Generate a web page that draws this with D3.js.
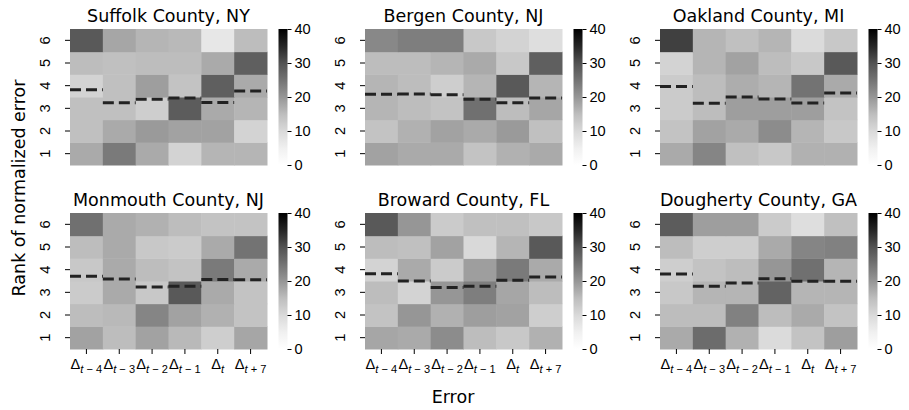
<!DOCTYPE html>
<html>
<head>
<meta charset="utf-8">
<script src="https://cdn.jsdelivr.net/npm/d3@7"></script>
<style>
  body { margin: 0; background: #fff; }
  svg { font-family: "DejaVu Sans", sans-serif; }
</style>
</head>
<body>
<svg id="chart" width="909" height="410"></svg>
<script>
// Share (%) of each rank of normalized error, per error column.
// Rows are rank 1 .. rank 6, columns follow errorKeys.
const counties = ["Suffolk County, NY", "Bergen County, NJ", "Oakland County, MI",
                  "Monmouth County, NJ", "Broward County, FL", "Dougherty County, GA"];
const errorKeys = ["t\u22124", "t\u22123", "t\u22122", "t\u22121", "t", "t+7"];
const ranks = [1, 2, 3, 4, 5, 6];
const colorbarTicks = [0, 10, 20, 30, 40];

const suffolk = [
  [17.5, 24, 17.5, 11, 16, 16],
  [14.5, 17.5, 19.5, 18.5, 18.5, 11],
  [14.5, 14.5, 12, 28.5, 17.5, 16],
  [11, 14.5, 19, 14, 28, 17.5],
  [15, 14.5, 15, 15, 17.5, 28],
  [29, 18, 16, 15.5, 7, 15]
];
const bergen = [
  [18.5, 17.5, 17.5, 14, 16.5, 17.5],
  [14, 16.5, 18.5, 17.5, 19.5, 14.5],
  [16, 15, 14, 25.5, 15, 18],
  [16, 15, 12, 16, 29, 16],
  [15, 15, 16, 17.5, 13, 28],
  [22, 23.5, 23.5, 13, 11, 9]
];
const oakland = [
  [17.5, 22.5, 14.5, 13, 16.5, 16.5],
  [14, 18.5, 17.5, 21.5, 16, 13],
  [12.5, 15, 19, 19, 19, 14],
  [12.5, 15, 17, 16, 25, 17.5],
  [11, 16, 18.5, 15, 13, 29],
  [32, 16, 14.5, 16, 9.5, 13]
];
const monmouth = [
  [18.5, 15, 18.5, 15.5, 12, 18],
  [15, 15.5, 22.5, 18.5, 16.5, 14],
  [12.5, 17.5, 13, 29, 17.5, 14],
  [13, 17.5, 15, 14, 24, 17.5],
  [15, 17.5, 13, 12.5, 17.5, 25],
  [25.5, 17.5, 16.5, 15, 14, 14]
];
const broward = [
  [18, 17.5, 21.5, 15, 13, 16.5],
  [14, 20, 16.5, 19, 18.5, 12],
  [15, 11, 20, 23.5, 18, 15],
  [11, 17.5, 12.5, 19, 24, 17.5],
  [15, 14.5, 18.5, 10, 16, 29],
  [29, 20, 12.5, 14.5, 14.5, 13]
];
const dougherty = [
  [17.5, 26, 16.5, 9.5, 14, 19],
  [15, 15, 23, 15, 17.5, 14],
  [13, 16, 16, 27.5, 16, 16],
  [12, 14, 15, 20, 25.5, 16],
  [15, 12, 12, 17.5, 22.5, 23],
  [28.5, 19, 19, 12.5, 9, 14.5]
];

// Mean rank per error column (dashed markers)
const suffolkMean   = [3.82, 3.25, 3.40, 3.46, 3.26, 3.76];
const bergenMean    = [3.62, 3.63, 3.60, 3.40, 3.25, 3.46];
const oaklandMean   = [3.96, 3.22, 3.50, 3.41, 3.24, 3.68];
const monmouthMean  = [3.71, 3.59, 3.24, 3.27, 3.57, 3.56];
const browardMean   = [3.82, 3.50, 3.21, 3.27, 3.53, 3.68];
const doughertyMean = [3.81, 3.27, 3.41, 3.60, 3.49, 3.49];

const grids = [suffolk, bergen, oakland, monmouth, broward, dougherty];
const means = [suffolkMean, bergenMean, oaklandMean, monmouthMean, browardMean, doughertyMean];

// ---- layout ----
const svg = d3.select("#chart");
const W = 197, H = 136;
const colX = [70, 365, 660];
const rowY = [29, 213];
const cbGap = 11.5, cbW = 9;
const tickFont = 14.6;
const labelFont = 17.5;

// Greys colormap (ColorBrewer, piecewise linear)
const greys = ["#ffffff", "#f0f0f0", "#d9d9d9", "#bdbdbd", "#969696",
               "#737373", "#525252", "#252525", "#000000"];
const color = d3.scaleLinear()
  .domain(d3.range(9).map(i => i * 5))
  .range(greys)
  .clamp(true);

// colorbar gradient
const defs = svg.append("defs");
const grad = defs.append("linearGradient")
  .attr("id", "greysGrad").attr("x1", 0).attr("y1", 1).attr("x2", 0).attr("y2", 0);
d3.range(0, 41, 1).forEach(v => {
  grad.append("stop").attr("offset", v / 40).attr("stop-color", color(v));
});

// Δ with a math-style subscript
function subLabel(sel, key) {
  sel.text(null);
  sel.append("tspan").text("\u0394");
  const sub = sel.append("tspan").attr("dy", 4).attr("font-size", tickFont * 0.76);
  sub.append("tspan").attr("font-style", "italic").text("t");
  const rest = key.slice(1);
  if (rest.length) {
    sub.append("tspan").text(rest.replace("\u2212", " \u2212 ").replace("+", " + "));
  }
}

grids.forEach((grid, i) => {
  const col = i % 3, row = Math.floor(i / 3);
  const x0 = colX[col], y0 = rowY[row];
  const g = svg.append("g");

  const x = d3.scaleBand().domain(d3.range(6)).range([x0, x0 + W]);
  const y = d3.scaleBand().domain(ranks.slice().reverse()).range([y0, y0 + H]);
  const yLin = d3.scaleLinear().domain([0.5, 6.5]).range([y0 + H, y0]);

  // cells
  const cells = [];
  grid.forEach((vals, r) => vals.forEach((v, c) => cells.push({ rank: ranks[r], c, v })));
  g.selectAll("rect.cell").data(cells).join("rect")
    .attr("class", "cell")
    .attr("x", d => x(d.c))
    .attr("y", d => y(d.rank))
    .attr("width", x.bandwidth() + 0.5)
    .attr("height", y.bandwidth() + 0.5)
    .attr("fill", d => color(d.v));

  // mean-rank dashes
  g.selectAll("line.mean").data(means[i]).join("line")
    .attr("class", "mean")
    .attr("x1", (d, c) => x(c))
    .attr("x2", (d, c) => x(c) + x.bandwidth())
    .attr("y1", d => yLin(d))
    .attr("y2", d => yLin(d))
    .attr("stroke", "#222")
    .attr("stroke-width", 3)
    .attr("stroke-dasharray", "11,5");

  // y axis (rotated tick labels)
  const ya = g.append("g").attr("transform", `translate(${x0},0)`)
    .call(d3.axisLeft(y).tickSize(5));
  ya.select(".domain").remove();
  ya.selectAll(".tick line").attr("stroke", "#000").attr("stroke-width", 1);
  ya.selectAll(".tick text")
    .attr("font-size", tickFont).attr("fill", "#000")
    .attr("text-anchor", "middle")
    .attr("x", 0).attr("y", 0).attr("dy", null)
    .attr("transform", "translate(-20,0) rotate(-90)");

  // x axis on bottom row only
  if (row === 1) {
    const xa = g.append("g").attr("transform", `translate(0,${y0 + H})`)
      .call(d3.axisBottom(x).tickSize(5).tickPadding(5));
    xa.select(".domain").remove();
    xa.selectAll(".tick line").attr("stroke", "#000");
    xa.selectAll(".tick text")
      .attr("font-size", tickFont).attr("fill", "#000")
      .each(function (d) { subLabel(d3.select(this), errorKeys[d]); });
  }

  // title
  g.append("text")
    .attr("x", x0 + W / 2).attr("y", y0 - 7)
    .attr("text-anchor", "middle")
    .attr("font-size", labelFont)
    .text(counties[i]);

  // colorbar
  const cbx = x0 + W + cbGap;
  g.append("rect").attr("x", cbx).attr("y", y0).attr("width", cbW).attr("height", H)
    .attr("fill", "url(#greysGrad)");
  const cbScale = d3.scaleLinear().domain([0, 40]).range([y0 + H, y0]);
  const ca = g.append("g").attr("transform", `translate(${cbx + cbW},0)`)
    .call(d3.axisRight(cbScale).tickValues(colorbarTicks).tickSize(4).tickPadding(3));
  ca.select(".domain").remove();
  ca.selectAll(".tick line").attr("stroke", "#000");
  ca.selectAll(".tick text").attr("font-size", tickFont).attr("fill", "#000");
});

// shared axis labels
svg.append("text")
  .attr("transform", "translate(25,188) rotate(-90)")
  .attr("text-anchor", "middle")
  .attr("font-size", labelFont)
  .text("Rank of normalized error");

svg.append("text")
  .attr("x", 453).attr("y", 403)
  .attr("text-anchor", "middle")
  .attr("font-size", labelFont)
  .text("Error");
</script>
</body>
</html>
